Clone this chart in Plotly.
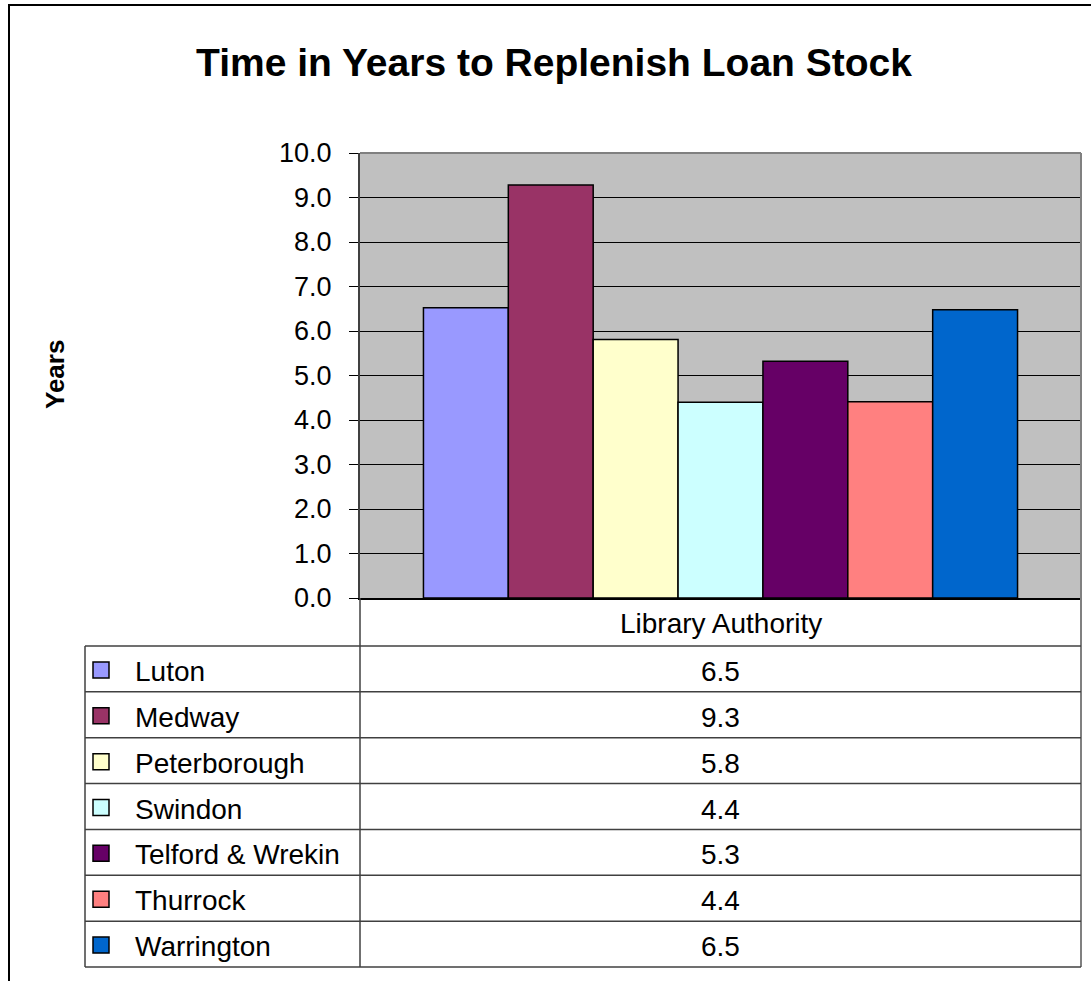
import plotly.graph_objects as go

# ---- data ----
authorities = ["Luton", "Medway", "Peterborough", "Swindon",
               "Telford & Wrekin", "Thurrock", "Warrington"]
years = [6.52, 9.28, 5.81, 4.40, 5.32, 4.41, 6.48]
colors = ["#9999FF", "#993366", "#FFFFCC", "#CCFFFF",
          "#660066", "#FF8080", "#0066CC"]
category = "Library Authority"
title_text = "Time in Years to Replenish Loan Stock"
y_title = "Years"
y_ticks = [0, 1, 2, 3, 4, 5, 6, 7, 8, 9, 10]

W, H = 1091, 981
FONT = "Liberation Sans, Arial, sans-serif"


def px(x):
    return x / W


def py(y):
    return 1 - y / H


# plot area in pixels
PL, PR, PT, PB = 360, 1081, 153, 598
# table geometry
TL = 85
HDR_B = 646
TB = 967
n = len(authorities)
row_h = (TB - HDR_B) / n

fig = go.Figure()
for name, val, col in zip(authorities, years, colors):
    fig.add_trace(go.Bar(
        x=[category], y=[val], name=name,
        marker=dict(color=col, line=dict(color="black", width=1.5)),
        showlegend=False,
    ))

shapes = []
annotations = []

# outer chart frame
shapes.append(dict(type="rect", xref="paper", yref="paper",
                   x0=px(9), x1=px(1100), y0=py(990), y1=py(5),
                   line=dict(color="black", width=2)))
# plot area border (top & right), gray
shapes.append(dict(type="line", xref="paper", yref="paper",
                   x0=px(PL), x1=px(PR), y0=py(PT), y1=py(PT),
                   line=dict(color="#808080", width=2), layer="above"))
shapes.append(dict(type="line", xref="paper", yref="paper",
                   x0=px(PR), x1=px(PR), y0=py(PT), y1=py(TB),
                   line=dict(color="#808080", width=2), layer="above"))
# table lines
tbl_line = dict(color="#404040", width=1.5)
shapes.append(dict(type="line", xref="paper", yref="paper",
                   x0=px(PL), x1=px(PL), y0=py(PB), y1=py(TB), line=tbl_line))
shapes.append(dict(type="line", xref="paper", yref="paper",
                   x0=px(TL), x1=px(TL), y0=py(HDR_B), y1=py(TB), line=tbl_line))
for i in range(n + 1):
    yy = HDR_B + i * row_h
    shapes.append(dict(type="line", xref="paper", yref="paper",
                       x0=px(TL), x1=px(PR), y0=py(yy), y1=py(yy),
                       line=tbl_line))

# header cell text
annotations.append(dict(text=category, xref="paper", yref="paper",
                        x=px((PL + PR) / 2), y=py((PB + HDR_B) / 2 + 1),
                        xanchor="center", yanchor="middle", showarrow=False,
                        font=dict(family=FONT, size=28, color="black")))

# rows
for i, (name, val, col) in enumerate(zip(authorities, years, colors)):
    cy = HDR_B + (i + 0.5) * row_h
    # legend key
    shapes.append(dict(type="rect", xref="paper", yref="paper",
                       x0=px(93), x1=px(109), y0=py(cy + 9), y1=py(cy - 7),
                       fillcolor=col, line=dict(color="black", width=1.5)))
    annotations.append(dict(text=name, xref="paper", yref="paper",
                            x=px(133), y=py(cy + 2.5), xanchor="left",
                            yanchor="middle", showarrow=False,
                            font=dict(family=FONT, size=28, color="black")))
    annotations.append(dict(text=f"{val:.1f}", xref="paper", yref="paper",
                            x=px((PL + PR) / 2), y=py(cy + 2.5),
                            xanchor="center", yanchor="middle",
                            showarrow=False,
                            font=dict(family=FONT, size=28, color="black")))

# y-axis title
annotations.append(dict(text=f"<b>{y_title}</b>", xref="paper", yref="paper",
                        x=px(55), y=py(375), textangle=-90,
                        xanchor="center", yanchor="middle", showarrow=False,
                        font=dict(family=FONT, size=26, color="black")))

fig.update_layout(
    width=W, height=H,
    margin=dict(l=0, r=0, t=0, b=0, pad=0),
    paper_bgcolor="white",
    plot_bgcolor="#C0C0C0",
    barmode="group",
    bargap=0.176,
    bargroupgap=0,
    title=dict(text=f"<b>{title_text}</b>", x=px(554), y=py(62),
               xanchor="center", yanchor="middle", automargin=False,
               font=dict(family=FONT, size=39, color="black")),
    xaxis=dict(domain=[px(PL), px(PR)], range=[-0.5, 0.5],
               showticklabels=False, ticks="", showgrid=False,
               showline=True, linecolor="black", linewidth=2,
               zeroline=False, fixedrange=True, automargin=False),
    yaxis=dict(domain=[py(PB), py(PT)], range=[0, 10],
               tickvals=y_ticks, tickformat=".1f",
               ticks="outside", ticklen=9, tickcolor="black", tickwidth=1,
               ticklabelstandoff=12, automargin=False,
               tickfont=dict(family=FONT, size=27, color="black"),
               showgrid=True, gridcolor="black", gridwidth=1,
               showline=True, linecolor="#404040", linewidth=2,
               zeroline=False),
    shapes=shapes,
    annotations=annotations,
)

fig.write_html("out.html")
